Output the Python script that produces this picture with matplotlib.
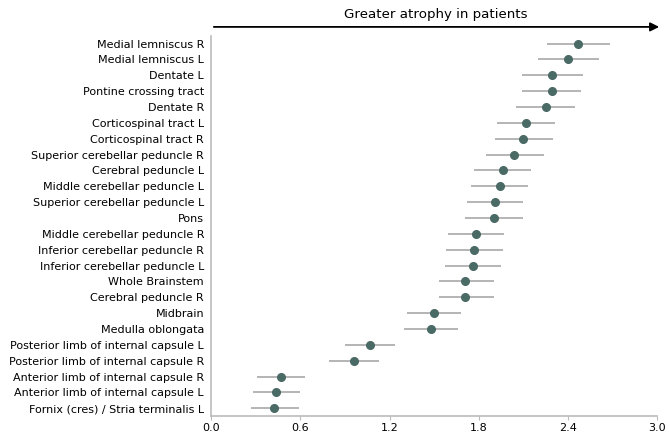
#!/usr/bin/env python3
"""atrophy_forest.py"""

import matplotlib.pyplot as plt
from matplotlib.patches import FancyArrowPatch
import numpy as np

regions = [
    "Medial lemniscus R",
    "Medial lemniscus L",
    "Dentate L",
    "Pontine crossing tract",
    "Dentate R",
    "Corticospinal tract L",
    "Corticospinal tract R",
    "Superior cerebellar peduncle R",
    "Cerebral peduncle L",
    "Middle cerebellar peduncle L",
    "Superior cerebellar peduncle L",
    "Pons",
    "Middle cerebellar peduncle R",
    "Inferior cerebellar peduncle R",
    "Inferior cerebellar peduncle L",
    "Whole Brainstem",
    "Cerebral peduncle R",
    "Midbrain",
    "Medulla oblongata",
    "Posterior limb of internal capsule L",
    "Posterior limb of internal capsule R",
    "Anterior limb of internal capsule R",
    "Anterior limb of internal capsule L",
    "Fornix (cres) / Stria terminalis L",
]

# effect size and its interval
effect = [2.47, 2.40, 2.29, 2.29, 2.25, 2.12, 2.10, 2.04, 1.96, 1.94, 1.91, 1.90,
          1.78, 1.77, 1.76, 1.71, 1.71, 1.50, 1.48, 1.07, 0.96, 0.47, 0.44, 0.42]
ci_low = [2.26, 2.20, 2.09, 2.09, 2.05, 1.92, 1.91, 1.85, 1.77, 1.75, 1.72, 1.71,
          1.59, 1.58, 1.57, 1.53, 1.53, 1.32, 1.30, 0.90, 0.79, 0.31, 0.28, 0.27]
ci_high = [2.68, 2.61, 2.50, 2.49, 2.45, 2.31, 2.30, 2.24, 2.15, 2.13, 2.10, 2.10,
           1.97, 1.96, 1.95, 1.90, 1.90, 1.68, 1.66, 1.24, 1.13, 0.63, 0.60, 0.59]

x_ticks = [0.0, 0.6, 1.2, 1.8, 2.4, 3.0]


def main():
    fig = plt.figure(figsize=(6.7, 4.34), dpi=100)
    ax = fig.add_axes([0.315, 0.041, 0.666, 0.877])

    n = len(regions)
    y = np.arange(n)
    ax.hlines(y, ci_low, ci_high, color="#a8a8a8", linewidth=1.2, zorder=1)
    ax.plot(effect, y, "o", color="#4a6a66", markersize=5.5, zorder=2)

    ax.set_ylim(n - 0.5, -0.5)
    ax.set_xlim(0, 3.0)
    ax.set_yticks(y)
    ax.set_yticklabels(regions, fontsize=8)
    ax.set_xticks(x_ticks)
    ax.set_xticklabels([f"{t:.1f}" for t in x_ticks], fontsize=8)
    ax.tick_params(axis="y", length=0, pad=5)
    ax.tick_params(axis="x", length=3, color="#bbbbbb", pad=2)

    for side in ("top", "right"):
        ax.spines[side].set_visible(False)
    for side in ("left", "bottom"):
        ax.spines[side].set_color("#bbbbbb")
        ax.spines[side].set_linewidth(1.2)

    # direction arrow above the plot
    fig.patches.append(
        FancyArrowPatch(
            (0.315, 0.938), (0.988, 0.938), transform=fig.transFigure,
            arrowstyle="-|>", mutation_scale=13, color="black", linewidth=1.3,
        )
    )
    fig.text(0.65, 0.966, "Greater atrophy in patients", ha="center",
             va="center", fontsize=9.6)

    fig.savefig("out.png", dpi=100)


if __name__ == "__main__":
    main()
